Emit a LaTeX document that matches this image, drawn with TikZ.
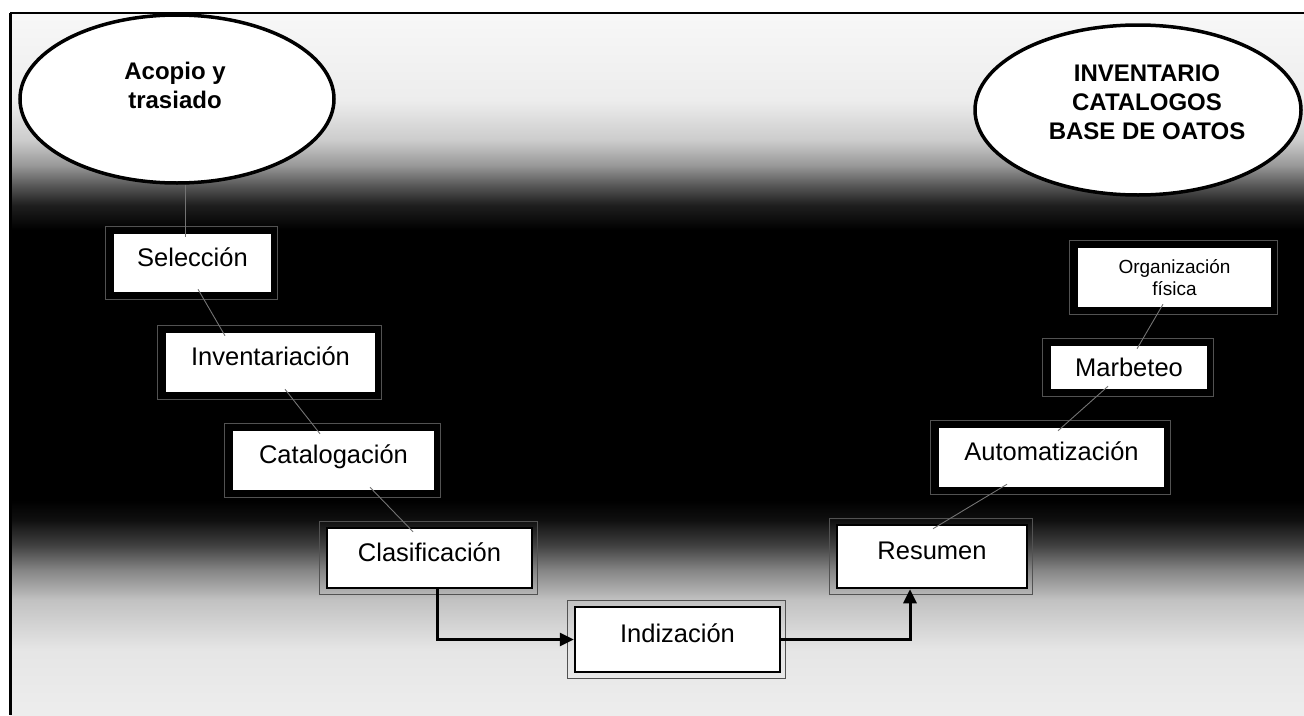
\documentclass[tikz,border=0pt]{standalone}
\usepackage{fontspec}
\setmainfont{Liberation Sans}
\usetikzlibrary{shapes.geometric,arrows.meta,calc}
\pgfdeclareverticalshading{bgshade}{100bp}{rgb(0bp)=(0.93,0.93,0.93); rgb(25bp)=(0.93,0.93,0.93); rgb(29.63bp)=(0.9,0.9,0.9); rgb(33.19bp)=(0.76,0.76,0.76); rgb(35.33bp)=(0.52,0.52,0.52); rgb(37.11bp)=(0.25,0.25,0.25); rgb(38.89bp)=(0.06,0.06,0.06); rgb(40.31bp)=(0,0,0); rgb(59.54bp)=(0,0,0); rgb(61.32bp)=(0.12,0.12,0.12); rgb(62.75bp)=(0.35,0.35,0.35); rgb(64.17bp)=(0.6,0.6,0.6); rgb(65.95bp)=(0.8,0.8,0.8); rgb(68.8bp)=(0.93,0.93,0.93); rgb(75bp)=(0.97,0.97,0.97); rgb(100bp)=(0.97,0.97,0.97)}
\begin{document}
\begin{tikzpicture}[x=1pt,y=-1pt,
  stepbox/.style={draw=black, line width=2.5pt, fill=white, rectangle, inner sep=0pt,
    text height=18.3pt, text depth=12pt, font=\fontsize{25.5}{30}\selectfont},
  smallbox/.style={draw=black, line width=2.5pt, fill=white, rectangle, inner sep=0pt,
    align=center, font=\fontsize{19}{22}\selectfont},
  oval/.style={draw=black, line width=3.5pt, fill=white, ellipse, inner sep=0pt},
  ovaltext/.style={align=center, inner sep=0pt, font=\bfseries\fontsize{24}{29}\selectfont},
  faint/.style={draw=black!55, line width=0.9pt},
  frameline/.style={draw=black!68, line width=0.8pt},
  flowarrow/.style={draw=black, line width=3pt, -{Triangle[length=14pt,width=13pt]}}
]
\useasboundingbox (0,0) rectangle (1304,715);
\fill[white] (0,0) rectangle (1304,715);
\shade[shading=bgshade] (10,13) rectangle (1304,715);
\draw[line width=1.8pt] (10,13) -- (1304,13);
\draw[line width=3pt] (10,13) -- (10,715);

% ellipses
\node[oval, minimum width=314pt, minimum height=168pt] (acopio) at (177,99) {};
\node[ovaltext] (acopiot) at (175,85) {Acopio y\\trasiado};
\node[oval, minimum width=326pt, minimum height=170pt] (invcat) at (1138,110) {};
\node[ovaltext] (invcatt) at (1147,102) {INVENTARIO\\CATALOGOS\\BASE DE OATOS};

% boxes
\node[stepbox, minimum width=159pt, minimum height=60pt] (sel) at (192.5,263) {Selección};
\node[stepbox, minimum width=211pt, minimum height=61pt] (inv) at (270.5,362.5) {Inventariación};
\node[stepbox, minimum width=203pt, minimum height=61pt] (cat) at (333.5,460.5) {Catalogación};
\node[stepbox, minimum width=205pt, minimum height=60pt] (cla) at (429.5,558) {Clasificación};
\node[stepbox, minimum width=205pt, minimum height=65pt] (ind) at (677.5,639.5) {Indización};
\node[stepbox, minimum width=190pt, minimum height=63pt] (res) at (932,556.5) {Resumen};
\node[stepbox, minimum width=227pt, minimum height=61pt] (aut) at (1051.5,457.5) {Automatización};
\node[stepbox, text depth=0pt, minimum width=158pt, minimum height=45pt] (mar) at (1129,367.5) {Marbeteo};
\node[smallbox, minimum width=195pt, minimum height=61pt] (org) at (1174.5,277.5) {Organización\\física};

% offset frames
\foreach \b in {sel,inv,cat,cla,ind,res,aut,mar,org}{
  \draw[frameline] ([shift={(-6,-5)}]\b.north west) rectangle ([shift={(4,5)}]\b.south east);
}

% faint connectors
\draw[faint] ([xshift=8pt]acopio.south) -- ([xshift=-7.5pt,yshift=-5pt]sel.north);
\draw[faint] ([xshift=5.5pt,yshift=5pt]sel.south) -- ([xshift=-45.5pt,yshift=-5pt]inv.north);
\draw[faint] ([xshift=14.5pt,yshift=5pt]inv.south) -- ([xshift=-13.5pt,yshift=-5pt]cat.north);
\draw[faint] ([xshift=36.5pt,yshift=5pt]cat.south) -- ([xshift=-16.5pt,yshift=-5pt]cla.north);
\draw[faint] ([xshift=-44.5pt,yshift=5pt]aut.south) -- ([xshift=1pt,yshift=-5pt]res.north);
\draw[faint] ([xshift=-21pt,yshift=5pt]mar.south) -- ([xshift=6.5pt,yshift=-5pt]aut.north);
\draw[faint] ([xshift=-11.5pt,yshift=5pt]org.south) -- ([xshift=8pt,yshift=-5pt]mar.north);

% flow arrows
\draw[flowarrow] ([xshift=7.5pt]cla.south) |- (ind.west);
\draw[flowarrow] (ind.east) -| ([xshift=-22pt]res.south);
\end{tikzpicture}
\end{document}
